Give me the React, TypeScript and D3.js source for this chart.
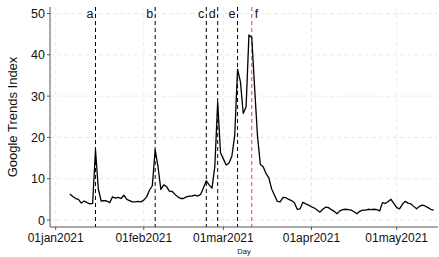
import * as React from "react";
import * as d3 from "d3";

// daily Google Trends index, 06jan2021 .. 14may2021
const firstDay = "2021-01-06";
const trendValues = [
  6.3, 5.7, 5.2, 5.0, 4.1, 4.6, 4.2, 3.9, 4.0, 17.0,
  7.5, 4.6, 4.7, 4.6, 4.2, 5.6, 5.3, 5.5, 5.2, 6.0,
  5.0, 4.7, 4.4, 4.4, 4.5, 4.4, 4.8, 5.6, 7.2, 8.3,
  17.0, 12.9, 7.4, 8.5, 8.1, 7.0, 6.9, 6.2, 5.6, 5.2,
  5.2, 5.6, 5.8, 5.8, 6.0, 5.8, 6.2, 7.8, 9.5, 8.5,
  7.7, 13.0, 28.5, 16.3, 14.8, 13.3, 13.8, 15.5, 20.5, 36.5,
  33.5, 25.8, 27.4, 44.8, 44.2, 32.0, 20.5, 13.5, 12.9, 11.3,
  10.2, 7.5, 6.0, 4.5, 4.4, 5.5, 5.4, 5.0, 4.7, 4.2,
  2.6, 2.7, 4.3, 3.9, 3.6, 3.2, 2.9, 2.4, 1.9, 2.6,
  3.1, 3.0, 2.5, 2.1, 1.5, 2.2, 2.5, 2.6, 2.5, 2.4,
  2.0, 1.5, 2.1, 2.4, 2.4, 2.6, 2.5, 2.6, 2.5, 2.2,
  4.2, 4.0, 4.5, 5.0, 4.0, 3.0, 2.7, 3.8, 4.5, 4.1,
  3.9, 3.3, 2.7, 3.3, 3.6, 3.4, 3.0, 2.6, 2.4,
];

const eventLabels = ["a", "b", "c", "d", "e", "f"];
const eventDays = ["2021-01-15", "2021-02-05", "2021-02-23", "2021-02-27", "2021-03-06", "2021-03-11"];

const xTickDays = ["2021-01-01", "2021-02-01", "2021-03-01", "2021-04-01", "2021-05-01"];
const yTicks = [0, 10, 20, 30, 40, 50];

const W = 439;
const H = 257;
const left = 50;
const right = 438;
const top = 7;
const bottom = 227;

const parse = (s: string) => new Date(s + "T00:00:00Z");

export default function App() {
  const start = parse(firstDay);
  const points = trendValues.map((v, i) => ({
    date: d3.utcDay.offset(start, i),
    value: v,
  }));

  const x = d3
    .scaleUtc()
    .domain([parse("2021-01-01"), parse("2021-05-01")])
    .range([55.7, 396.7]);
  const y = d3.scaleLinear().domain([0, 50]).range([220, 13.5]);

  const line = d3
    .line<{ date: Date; value: number }>()
    .x((d) => x(d.date))
    .y((d) => y(d.value));

  const fmt = d3.utcFormat("%d%b%Y");
  const font = "'Liberation Sans', Arial, sans-serif";
  const ink = "#111";

  return (
    <svg
      width={W}
      height={H}
      style={{ position: "absolute", left: 0, top: 0, background: "white" }}
      fontFamily={font}
    >
      {/* grid */}
      {yTicks.map((t) => (
        <line
          key={"gy" + t}
          x1={left}
          x2={right}
          y1={y(t)}
          y2={y(t)}
          stroke="#e3e3e3"
          strokeWidth={0.8}
          strokeDasharray="4,3"
        />
      ))}
      {xTickDays.map((t) => (
        <line
          key={"gx" + t}
          x1={x(parse(t))}
          x2={x(parse(t))}
          y1={top}
          y2={bottom}
          stroke="#e3e3e3"
          strokeWidth={0.8}
          strokeDasharray="4,3"
        />
      ))}

      {/* event lines */}
      {eventDays.map((d, i) => {
        const xx = x(parse(d));
        const isLast = i === eventDays.length - 1;
        return (
          <g key={"ev" + i}>
            <line
              x1={xx}
              x2={xx}
              y1={top}
              y2={bottom}
              stroke={isLast ? "#e8413c" : "black"}
              strokeWidth={1}
              strokeDasharray="4,3"
            />
            <text
              x={isLast ? xx + 3 : xx - 2}
              y={17.5}
              fontSize={12.5}
              textAnchor={isLast ? "start" : "end"}
              fill={ink}
            >
              {eventLabels[i]}
            </text>
          </g>
        );
      })}

      {/* series */}
      <path d={line(points) ?? ""} fill="none" stroke="black" strokeWidth={1.3} strokeLinejoin="round" />

      {/* axes */}
      <line x1={left} x2={left} y1={top} y2={bottom} stroke="#555" strokeWidth={1} />
      <line x1={left} x2={right} y1={bottom} y2={bottom} stroke="#555" strokeWidth={1} />
      {yTicks.map((t) => (
        <g key={"ty" + t}>
          <line x1={left - 3} x2={left} y1={y(t)} y2={y(t)} stroke="#555" />
          <text x={left - 5} y={y(t)} dy="0.36em" textAnchor="end" fontSize={12.5} fill={ink}>
            {t}
          </text>
        </g>
      ))}
      {xTickDays.map((t) => (
        <g key={"tx" + t}>
          <line x1={x(parse(t))} x2={x(parse(t))} y1={bottom} y2={bottom + 3} stroke="#555" />
          <text x={x(parse(t))} y={bottom + 15} textAnchor="middle" fontSize={12} fill={ink}>
            {fmt(parse(t)).toLowerCase()}
          </text>
        </g>
      ))}

      {/* titles */}
      <text
        transform={`translate(17, 117) rotate(-90)`}
        textAnchor="middle"
        fontSize={13}
        fill={ink}
      >
        Google Trends Index
      </text>
      <text x={(left + right) / 2} y={254} textAnchor="middle" fontSize={7.5} fill={ink}>
        Day
      </text>
    </svg>
  );
}
